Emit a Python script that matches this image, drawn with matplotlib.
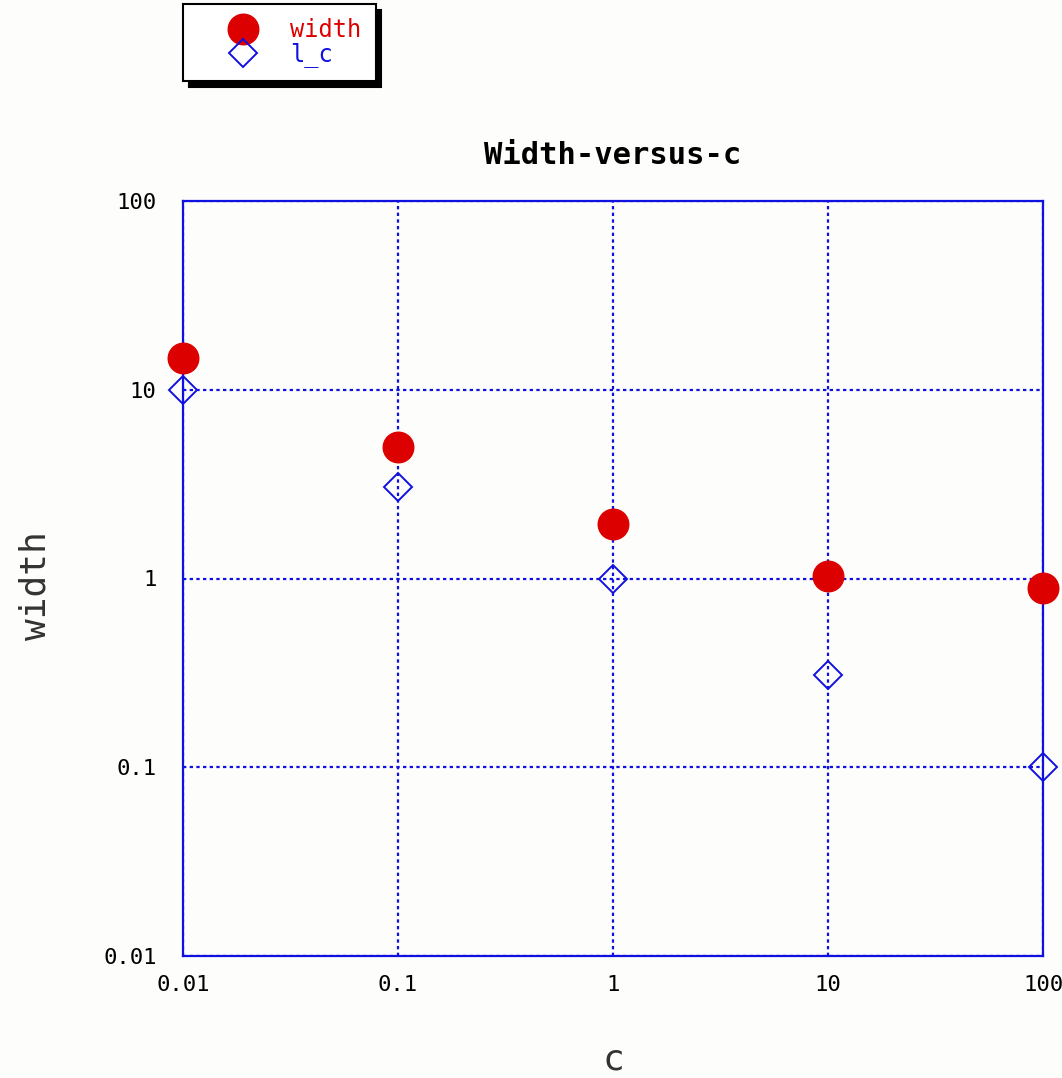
import numpy as np
import matplotlib.pyplot as plt
from matplotlib.ticker import FixedLocator, FixedFormatter, NullLocator

# sample data
c = [0.01, 0.1, 1, 10, 100]
width = [14.7, 5.0, 1.95, 1.03, 0.89]
l_c = [10, 3.05, 1.0, 0.31, 0.1]

ticks = [0.01, 0.1, 1, 10, 100]
tick_labels = ['0.01', '0.1', '1', '10', '100']

red = '#dd0000'
blue = '#1010e0'
mono = 'DejaVu Sans Mono'

fig = plt.figure(figsize=(10.62, 10.78), dpi=100)
fig.patch.set_facecolor('#fdfdfb')
ax = fig.add_axes([183/1062, 1-956/1078, 860/1062, 755/1078])
ax.set_facecolor('#fdfdfb')

ax.set_xscale('log')
ax.set_yscale('log')
ax.set_xlim(0.01, 100)
ax.set_ylim(0.01, 100)

h1, = ax.plot(c, width, 'o', ms=22, color=red, mec=red, clip_on=False, zorder=4, label='width')
h2, = ax.plot(c, l_c, 'D', ms=14.5, mfc='none', mec=blue, mew=1.4, clip_on=False, zorder=5, label='l_c')

for a in (ax.xaxis, ax.yaxis):
    a.set_major_locator(FixedLocator(ticks))
    a.set_major_formatter(FixedFormatter(tick_labels))
    a.set_minor_locator(NullLocator())
ax.tick_params(length=0, labelsize=16)
ax.tick_params(axis='y', pad=19)
ax.tick_params(axis='x', pad=14)
for t in ax.get_xticklabels() + ax.get_yticklabels():
    t.set_fontfamily(mono)

ax.grid(True, color=blue, linestyle=(0, (1.5, 1.5)), linewidth=1.6)
for s in ax.spines.values():
    s.set_color(blue)
    s.set_linewidth(1.6)
    s.set_zorder(3)

ax.set_title('Width-versus-c', fontfamily=mono, fontweight='bold', fontsize=22, pad=27)
ax.set_ylabel('width', fontfamily=mono, fontsize=26, color='#333333', va='center')
ax.yaxis.set_label_coords(-(183 - 36) / 860, 0.49)
ax.set_xlabel('c', fontfamily=mono, fontsize=26, color='#333333', va='center')
ax.xaxis.set_label_coords(0.5, -(1060 - 956) / 755)

leg = fig.legend(handles=[h1, h2], loc='upper left', bbox_to_anchor=(183/1062, 1-4/1078),
                 prop={'family': mono, 'size': 17}, fancybox=False, framealpha=1,
                 edgecolor='black', handlelength=3.9, handletextpad=0.05,
                 labelspacing=0.0, borderpad=0.6, borderaxespad=0,
                 markerscale=1.0, shadow={'color': 'black', 'alpha': 1, 'ox': 4, 'oy': -4})
leg.get_frame().set_linewidth(1.5)
leg.get_texts()[0].set_color(red)
leg.get_texts()[1].set_color(blue)

fig.savefig('out.png', dpi=100, facecolor=fig.get_facecolor())
